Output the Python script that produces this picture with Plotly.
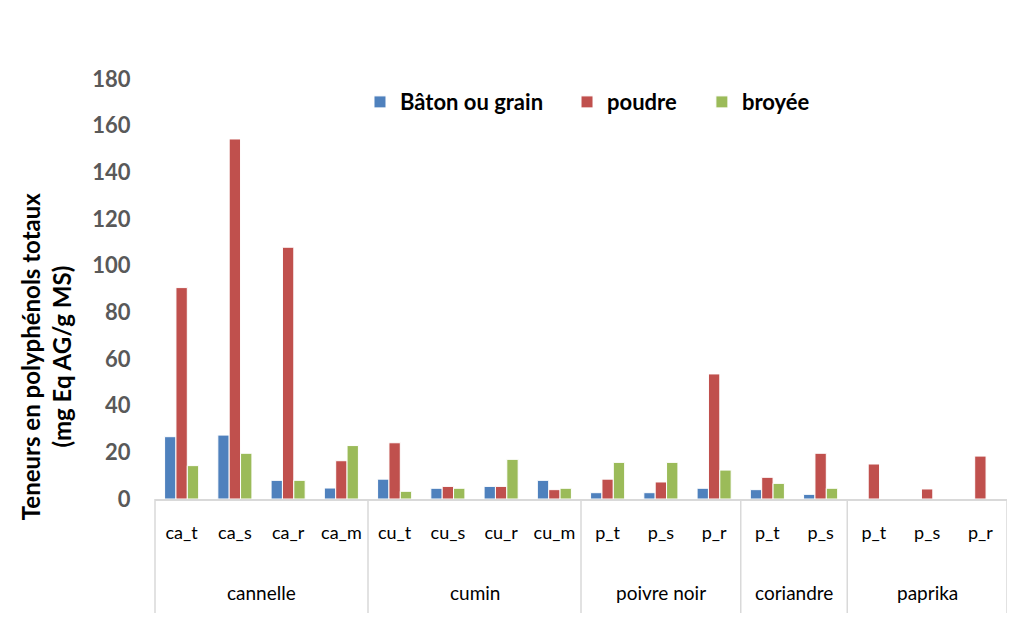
import plotly.graph_objects as go

groups = ["cannelle"] * 4 + ["cumin"] * 4 + ["poivre noir"] * 3 + ["coriandre"] * 2 + ["paprika"] * 3
samples = ["ca_t", "ca_s", "ca_r", "ca_m",
           "cu_t", "cu_s", "cu_r", "cu_m",
           "p_t", "p_s", "p_r",
           "p_t", "p_s",
           "p_t", "p_s", "p_r"]

baton = [26.7, 27.4, 8.0, 4.7, 8.5, 4.6, 5.4, 8.0, 2.7, 2.7, 4.6, 4.0, 2.0, None, None, None]
poudre = [90.6, 154.3, 107.9, 16.4, 24.1, 5.4, 5.4, 4.0, 8.5, 7.3, 53.6, 9.3, 19.6, 15.0, 4.3, 18.4]
broyee = [14.3, 19.6, 8.0, 22.9, 3.3, 4.6, 17.0, 4.6, 15.7, 15.7, 12.4, 6.7, 4.6, None, None, None]

series_names = ["Bâton ou grain", "poudre", "broyée"]
series_colors = ["#4f81bd", "#c0504d", "#9bbb59"]

n = len(samples)
pos = list(range(n))
FONT = "Lato, sans-serif"

fig = go.Figure()
legend_ids = ["legend", "legend2", "legend3"]
for name, vals, col, lg in zip(series_names, [baton, poudre, broyee], series_colors, legend_ids):
    fig.add_trace(go.Bar(x=pos, y=vals, name=name, legend=lg,
                         marker=dict(color=col, line=dict(color="white", width=1))))

legend_style = dict(orientation="h", y=0.945, xanchor="left", yanchor="middle",
                    font=dict(size=22, family=FONT, color="black", weight="bold"),
                    itemwidth=30, bgcolor="rgba(0,0,0,0)")

fig.update_layout(
    width=1015, height=621,
    paper_bgcolor="white", plot_bgcolor="white",
    margin=dict(l=147, r=16, t=71, b=130),
    barmode="group", bargap=0.36, bargroupgap=0.0,
    font=dict(family=FONT, color="black"),
    legend=dict(x=0.2406, **legend_style),
    legend2=dict(x=0.4836, **legend_style),
    legend3=dict(x=0.6419, **legend_style),
    showlegend=True,
)
fig.update_yaxes(range=[0, 180], dtick=20, showgrid=False, zeroline=False, showline=False,
                 ticks="outside", ticklen=19, tickcolor="rgba(0,0,0,0)", automargin=False,
                 tickfont=dict(size=22, color="#595959", family=FONT, weight="bold"))
fig.update_xaxes(range=[-0.5, n - 0.5], tickvals=pos, ticktext=samples,
                 showline=True, linecolor="#d9d9d9", linewidth=1.5, showgrid=False, zeroline=False,
                 ticks="outside", ticklen=17, tickcolor="rgba(0,0,0,0)", automargin=False,
                 tickfont=dict(size=18, color="black", family=FONT))

# group labels and dividers derived from the group list
bounds = [0]
for i in range(1, n):
    if groups[i] != groups[i - 1]:
        bounds.append(i)
bounds.append(n)
for a, b in zip(bounds[:-1], bounds[1:]):
    fig.add_annotation(text=groups[a], xref="x", yref="paper", x=(a + b - 1) / 2, y=0,
                       yshift=-93, showarrow=False, xanchor="center", yanchor="middle",
                       font=dict(size=19, color="black", family=FONT))
for b in bounds:
    xp = b / n
    fig.add_shape(type="line", xref="paper", yref="paper", x0=xp, x1=xp, y0=0, y1=-114 / 420,
                  line=dict(color="#d9d9d9", width=1.5))

fig.add_annotation(text="<b>Teneurs en polyphénols totaux<br>(mg Eq AG/g MS)</b>",
                   xref="paper", yref="paper", x=-0.128, y=0.340, textangle=-90,
                   showarrow=False, font=dict(size=24, color="black", family=FONT),
                   xanchor="center", yanchor="middle")

fig.write_html("out.html")
